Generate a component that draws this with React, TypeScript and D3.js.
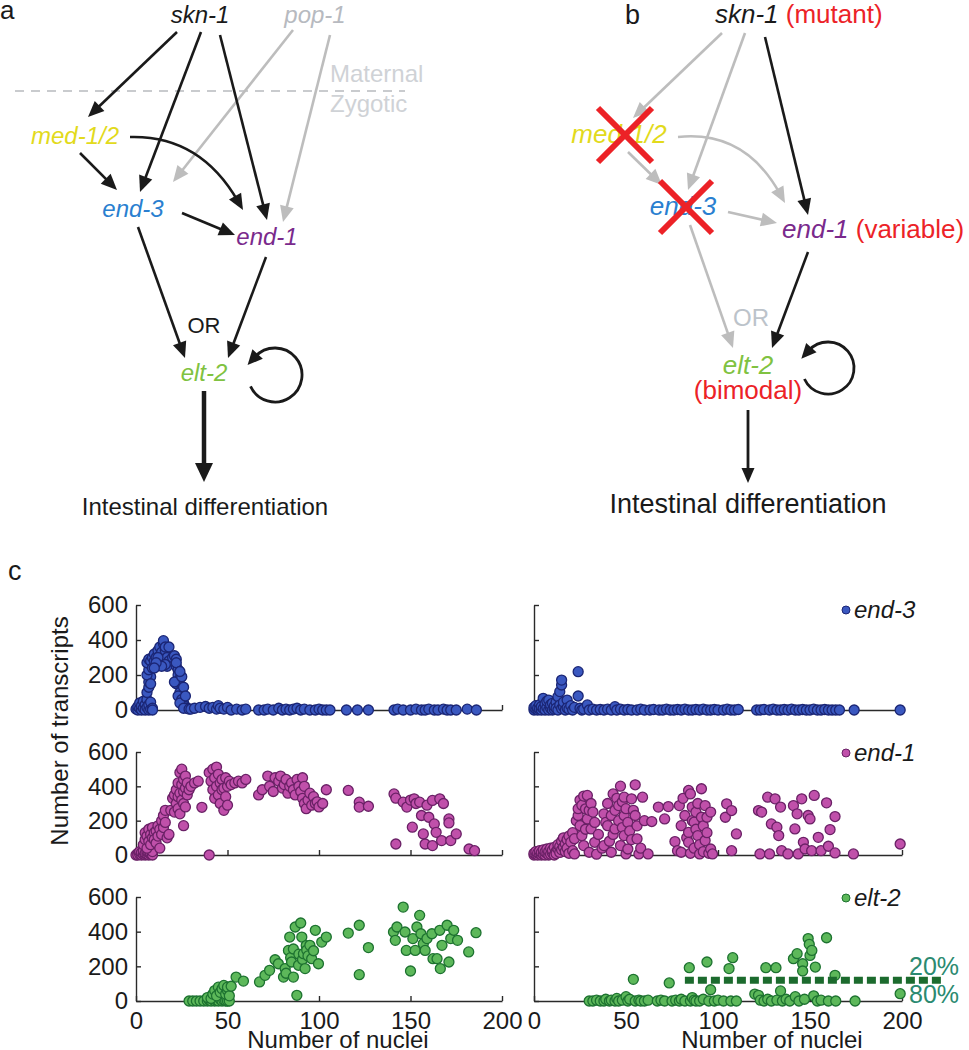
import React, { useEffect, useRef } from 'react';
import * as d3 from 'd3';

type Pt = [number, number];

// [number of nuclei, number of transcripts]
const end3Wt: Pt[] = [
  [0, 5], [1, 0], [1, 20], [2, 10], [2, 40], [3, 0], [3, 25], [4, 50], [4, 10], [5, 30], [5, 0], [6, 60], [6, 15], [7, 0], [7, 30], [8, 5], [8, 45], [9, 10], [9, 0],
  [6, 100], [7, 130], [7, 160], [8, 190], [6, 200], [7, 230], [8, 260], [6, 270], [7, 290], [8, 280], [9, 240], [8, 150],
  [9, 300], [10, 280], [10, 320], [11, 250], [11, 300], [12, 340], [12, 270], [13, 310], [13, 360], [14, 290], [14, 330], [15, 380], [15, 396], [16, 340], [16, 360],
  [17, 300], [17, 250], [18, 360], [18, 280], [16, 260], [12, 300], [14, 250], [11, 270], [10, 240],
  [20, 300], [21, 310], [22, 290], [22, 250], [23, 230], [23, 200], [24, 180], [22, 150], [21, 160], [25, 120], [24, 100], [23, 80], [25, 60], [26, 40], [27, 20],
  [24, 40], [25, 190], [26, 130], [27, 80], [28, 10], [26, 10], [29, 5], [22, 270], [24, 220],
  [30, 5], [32, 10], [35, 15], [38, 20], [40, 10], [42, 15], [44, 5], [45, 25], [46, 10], [48, 5], [50, 15], [52, 0], [55, 5], [58, 0], [60, 5],
  [67, 0], [70, 0], [72, 5], [75, 0], [78, 10], [80, 0], [82, 5], [84, 0], [86, 5], [88, 10], [90, 0], [92, 5], [95, 0], [98, 0], [100, 5], [102, 0], [104, 0], [106, 0],
  [115, 0], [121, 0], [127, 0],
  [141, 0], [143, 5], [146, 0], [150, 0], [153, 5], [156, 0], [158, 0], [160, 5], [163, 0], [165, 0], [168, 5], [170, 0], [172, 0], [175, 0], [181, 5], [186, 0],
];

const end1Wt: Pt[] = [
  [0, 0], [1, 10], [1, 0], [2, 5], [2, 20], [3, 0], [3, 15], [4, 5], [4, 25], [5, 0], [5, 10], [6, 5], [6, 20], [7, 0], [7, 15], [8, 5], [8, 10], [9, 0], [9, 20],
  [4, 60], [5, 90], [5, 130], [6, 110], [6, 40], [7, 80], [7, 150], [8, 120], [8, 60], [9, 100], [9, 160], [10, 130], [10, 90], [11, 140], [11, 70], [12, 110],
  [12, 170], [13, 150], [13, 40], [14, 200], [14, 120], [15, 230], [15, 160], [16, 260], [16, 190], [17, 100], [18, 120], [19, 260],
  [20, 330], [21, 350], [21, 250], [22, 380], [22, 300], [23, 420], [23, 340], [23, 270], [24, 480], [24, 360], [24, 240], [25, 500], [25, 410], [25, 320],
  [26, 440], [26, 370], [26, 300], [26, 171], [27, 460], [27, 390], [27, 280], [28, 350], [28, 420], [29, 380], [30, 400], [32, 420], [34, 430], [36, 278], [40, 0],
  [40, 480], [41, 430], [42, 500], [42, 380], [43, 450], [43, 330], [44, 512], [44, 400], [45, 470], [45, 350], [46, 420], [46, 300], [47, 440], [47, 380],
  [48, 390], [48, 260], [49, 450], [49, 340], [50, 400], [50, 290], [51, 430], [52, 410], [54, 420], [56, 430], [58, 420], [60, 440],
  [67, 350], [69, 380], [72, 460], [73, 400], [75, 370], [76, 450], [78, 430], [79, 460], [80, 390], [81, 410], [82, 440], [83, 360], [84, 400], [85, 420],
  [86, 380], [87, 350], [88, 440], [89, 400], [90, 370], [91, 330], [91, 450], [92, 300], [92, 400], [93, 270], [94, 320], [95, 360], [96, 290], [97, 340],
  [98, 300], [99, 310], [100, 280], [102, 300], [104, 380],
  [116, 376], [122, 308], [122, 279], [127, 284],
  [141, 356], [142, 331], [142, 64], [146, 308], [148, 279], [150, 320], [151, 162], [152, 327], [153, 300], [155, 308], [156, 230], [157, 123], [158, 64],
  [159, 290], [160, 220], [162, 318], [162, 55], [163, 181], [164, 132], [166, 327], [167, 84], [168, 300], [171, 210], [171, 187], [172, 84], [175, 123],
  [182, 35], [185, 25],
];

const elt2Wt: Pt[] = [
  [29, 0], [31, 0], [33, 0], [35, 0], [37, 0], [39, 0], [40, 5], [41, 0], [42, 10], [43, 0], [44, 5], [45, 0], [46, 10], [47, 0], [48, 5], [49, 0], [50, 0], [51, 0],
  [39, 20], [41, 15], [42, 40], [43, 60], [44, 30], [45, 80], [46, 50], [47, 70], [48, 90], [49, 40], [50, 60], [50, 80], [51, 30], [52, 85], [54.7, 138], [58.7, 115],
  [67.5, 110], [70.5, 148], [73, 177], [76, 238], [77.8, 215], [80.6, 138], [81.5, 187], [82, 160], [83.3, 292], [84, 369], [84.5, 250], [85, 225], [86, 138],
  [86, 300], [87, 427], [87.9, 33], [88.8, 206], [89, 270], [90, 450], [90.6, 369], [91, 240], [91.5, 273], [92.4, 187], [93, 320], [93.3, 294], [94, 260],
  [95, 321], [96, 244], [97, 290], [98, 408], [99.7, 215], [101.5, 340], [104, 369],
  [116, 392], [122, 437], [122, 152], [127, 308],
  [140.7, 398], [141.7, 350], [142.6, 427], [146, 542], [147, 398], [147.7, 292], [150, 173], [151.3, 360], [152.6, 292], [153.5, 427], [155, 494], [155.7, 388],
  [157, 331], [158, 292], [159, 360], [161.7, 388], [162.3, 244], [164.5, 244], [166, 408], [166.3, 187], [167.2, 321], [170, 437], [171, 225], [172, 360],
  [173.6, 408], [175.7, 350], [181.8, 283], [185.8, 394],
];

const end3Mut: Pt[] = [
  [0, 0], [0, 15], [1, 5], [1, 25], [2, 0], [2, 12], [3, 30], [3, 5], [4, 0], [4, 20], [5, 67], [5, 8], [6, 0], [6, 35], [7, 15], [7, 50], [8, 57], [8, 0],
  [9, 10], [9, 30], [10, 38], [10, 0], [11, 5], [11, 22], [12, 45], [12, 10], [13, 76], [13, 0], [14, 105], [14, 28], [15, 143], [15, 171], [15, 8], [16, 19],
  [16, 45], [17, 0], [18, 57], [18, 12], [19, 5], [20, 25], [21, 0], [22, 15], [24, 219], [24, 80], [25, 10], [26, 0], [27, 5], [29, 29], [30, 0], [32, 5],
  [34, 0], [36, 3], [38, 0], [40, 5], [42, 0], [44, 19], [45, 0], [47, 5], [49, 0], [51, 3], [53, 0], [56, 0], [58, 5], [60, 0], [63, 0], [65, 3], [68, 0],
  [70, 0], [72, 5], [74, 0], [76, 0], [78, 3], [80, 0], [82, 5], [84, 0], [86, 0], [88, 3], [90, 0], [92, 5], [94, 0], [96, 0], [98, 3], [100, 0], [103, 0],
  [105, 5], [107, 0], [109, 0], [111, 3], [121, 0], [123, 0], [125, 3], [128, 0], [130, 5], [132, 0], [134, 0], [136, 3], [138, 0], [140, 5], [142, 0],
  [144, 0], [146, 3], [148, 0], [150, 0], [152, 5], [154, 0], [156, 0], [158, 3], [160, 0], [162, 0], [164, 0], [166, 0], [174, 0], [199, 0],
];

const end1Mut: Pt[] = [
  [0, 0], [0, 10], [1, 5], [1, 20], [2, 0], [2, 12], [3, 8], [3, 25], [4, 0], [4, 15], [5, 5], [5, 30], [6, 0], [6, 18], [7, 10], [7, 35], [8, 0], [8, 22],
  [9, 5], [9, 40], [10, 12], [10, 28], [11, 0], [11, 45], [12, 20], [12, 8], [13, 35], [13, 60], [14, 15], [14, 50], [15, 80], [15, 30], [16, 45], [16, 100],
  [17, 20], [17, 65], [18, 90], [18, 40], [19, 110], [19, 10], [20, 75], [21, 130], [21, 25], [22, 95], [22, 6],
  [23, 200], [24, 230], [24, 270], [25, 171], [25, 320], [26, 113], [26, 290], [27, 55], [27, 343], [28, 269], [28, 150], [29, 347], [29, 210], [30, 16],
  [30, 260], [31, 152], [31, 300], [32, 250], [33, 74], [33, 190], [34, 5], [35, 120],
  [37, 40], [38, 240], [38, 55], [39, 190], [40, 171], [40, 300], [41, 80], [42, 230], [42, 16], [43, 356], [43, 120], [44, 152], [44, 260], [45, 330],
  [46, 288], [46, 200], [47, 55], [47, 401], [48, 160], [48, 310], [49, 337], [49, 230], [49, 113], [50, 6], [50, 270], [51, 35], [51, 190], [52, 140],
  [53, 327], [53, 90], [54, 260], [55, 409], [55, 230], [56, 94], [56, 170], [57, 6], [58, 40], [59, 337], [60, 200], [62, 6],
  [64, 195], [67.6, 279], [71, 210], [73, 282], [76.6, 78],
  [78, 25], [79, 288], [80, 16], [80, 171], [81, 330], [82, 230], [83, 100], [84, 376], [84, 132], [84, 74], [85, 356], [85, 10], [86, 279], [86, 200],
  [87, 191], [87, 40], [88, 250], [88, 150], [89, 113], [89, 300], [90, 6], [90, 60], [91, 386], [91, 220], [92, 170], [92, 20], [93, 288], [93, 84],
  [94, 220], [94, 130], [95, 10], [96, 35], [96, 250], [97, 6],
  [104, 220], [104.7, 298], [107.4, 259], [107.4, 25], [110, 123],
  [122, 259], [122.8, 6], [123.7, 250], [127, 337], [128, 6], [129, 181], [131, 327], [132, 162], [133, 113], [134, 279], [134.6, 25], [138, 6],
  [141, 288], [141.8, 152], [143, 240], [143.6, 6], [145.5, 327], [146.4, 74], [147.3, 35], [149, 230], [150, 210], [150.9, 25], [152.3, 347], [154.5, 103],
  [156, 25], [159, 304], [160, 51], [160.9, 148], [163.6, 224], [163.6, 12], [173.6, 6], [199, 64],
];

const elt2Mut: Pt[] = [
  [30, 0], [32, 0], [34, 5], [36, 0], [38, 0], [39, 10], [41, 0], [42, 5], [44, 0], [45, 15], [46, 0], [48, 5], [50, 25], [51, 0], [52, 10], [54, 125],
  [55, 0], [57, 5], [58, 0], [60, 0], [62, 5], [67, 0], [69, 5], [71, 0], [73.5, 104], [75, 0], [77, 5], [79, 0], [80, 10], [82, 0], [84.4, 192], [85, 0],
  [86, 20], [87, 5], [88, 0], [90, 0], [92, 10], [94, 225], [95, 0], [96, 65], [98, 0], [100, 5], [103, 0], [106, 187], [107, 0], [108, 250], [110, 0],
  [120, 40], [122, 33], [123, 5], [125, 0], [126, 192], [127, 10], [129, 0], [131.5, 192], [132, 5], [134, 58], [135, 0], [137, 10], [139, 0], [141, 244],
  [142, 25], [143, 273], [144, 0], [146, 215], [146, 173], [147, 10], [149, 360], [149.6, 327], [150, 263], [151, 292], [152, 30], [152.9, 196], [154, 0],
  [156, 5], [159, 365], [160, 0], [163.6, 148], [164, 0], [174.5, 0], [199, 42],
];

const genes = ['end-3', 'end-1', 'elt-2'];
const geneFill = ['#3a58c0', '#c050aa', '#5db85a'];
const geneStroke = ['#1b2675', '#6a2166', '#1d7230'];
const yTicks = [0, 200, 400, 600];
const xTicks = [0, 50, 100, 150, 200];
const bimodalCut = 120;
const bimodalShares = ['20%', '80%'];

const FONT = '"Liberation Sans", Arial, Helvetica, sans-serif';

const App: React.FC = () => {
  const ref = useRef<SVGSVGElement>(null);

  useEffect(() => {
    if (!ref.current) return;
    const svg = d3.select(ref.current);
    svg.selectAll('*').remove();

    const black = '#1a1a1a';
    const gray = '#bdbdbd';
    const red = '#ec2227';

    // arrow helper: shaft + filled head
    const head = (tipX: number, tipY: number, dx: number, dy: number, color: string, len: number, w: number) => {
      const l = Math.hypot(dx, dy);
      const ux = dx / l, uy = dy / l;
      const bx = tipX - ux * len, by = tipY - uy * len;
      svg.append('path')
        .attr('d', `M${tipX},${tipY}L${bx - uy * w / 2},${by + ux * w / 2}L${bx + uy * w / 2},${by - ux * w / 2}Z`)
        .attr('fill', color);
      return [tipX - ux * len * 0.7, tipY - uy * len * 0.7];
    };
    const arrow = (x1: number, y1: number, x2: number, y2: number, color: string, sw = 2.6, len = 16, w = 14) => {
      const [ex, ey] = head(x2, y2, x2 - x1, y2 - y1, color, len, w);
      svg.append('line').attr('x1', x1).attr('y1', y1).attr('x2', ex).attr('y2', ey)
        .attr('stroke', color).attr('stroke-width', sw);
    };
    const curve = (x1: number, y1: number, cx: number, cy: number, x2: number, y2: number, color: string) => {
      const l = Math.hypot(x2 - cx, y2 - cy);
      const ex = x2 - (x2 - cx) / l * 10, ey = y2 - (y2 - cy) / l * 10;
      svg.append('path').attr('d', `M${x1},${y1}Q${cx},${cy} ${ex},${ey}`)
        .attr('fill', 'none').attr('stroke', color).attr('stroke-width', 2.6);
      head(x2, y2, x2 - cx, y2 - cy, color, 16, 14);
    };
    const loop = (cx: number, cy: number, r: number) => {
      const a0 = (155 * Math.PI) / 180, a1 = (222 * Math.PI) / 180;
      const sx = cx + r * Math.cos(a0), sy = cy + r * Math.sin(a0);
      const ex = cx + r * Math.cos(a1), ey = cy + r * Math.sin(a1);
      svg.append('path').attr('d', `M${sx},${sy}A${r},${r} 0 1 0 ${ex},${ey}`)
        .attr('fill', 'none').attr('stroke', black).attr('stroke-width', 2.8);
      const tx = Math.sin(a1), ty = -Math.cos(a1);
      head(ex + tx * 11, ey + ty * 11, tx, ty, black, 15, 14);
    };
    const label = (x: number, y: number, t: string, fill: string, size: number, italic = true, anchor = 'middle') => {
      return svg.append('text').attr('x', x).attr('y', y).attr('text-anchor', anchor)
        .attr('font-family', FONT).attr('font-size', size)
        .attr('font-style', italic ? 'italic' : 'normal').attr('fill', fill).text(t);
    };

    // ---------- panel a ----------
    label(0, 19, 'a', black, 26, false, 'start');
    svg.append('line').attr('x1', 15).attr('x2', 405).attr('y1', 91).attr('y2', 91)
      .attr('stroke', '#c9cbce').attr('stroke-width', 2).attr('stroke-dasharray', '9,7');
    arrow(293, 30, 173, 182, gray);
    arrow(330, 35, 283, 222, gray);
    arrow(177, 32, 88, 117, black);
    arrow(201, 32, 140, 192, black);
    arrow(220, 35, 267, 220, black);
    arrow(80, 153, 117, 190, black);
    curve(130, 137, 200, 135, 243, 210, black);
    arrow(182, 213, 235, 235, black);
    arrow(138, 227, 185, 358, black);
    arrow(266, 257, 228, 358, black);
    arrow(204, 391, 204, 482, black, 4.5, 19, 18);
    loop(275, 375, 27);
    label(200, 23, 'skn-1', black, 24);
    label(315, 23, 'pop-1', '#b7bac0', 24);
    label(330, 82, 'Maternal', '#cfd2d6', 24, false, 'start');
    label(330, 112, 'Zygotic', '#cfd2d6', 24, false, 'start');
    label(75, 144, 'med-1/2', '#e2da1c', 24);
    label(133, 217, 'end-3', '#2a7fd0', 24);
    label(267, 245, 'end-1', '#7a2a8c', 24);
    label(204, 333, 'OR', black, 22, false);
    label(204, 381, 'elt-2', '#80c241', 24);
    label(205, 515, 'Intestinal differentiation', black, 24, false);

    // ---------- panel b ----------
    label(625, 24, 'b', black, 27, false, 'start');
    arrow(722, 33, 633, 118, gray);
    arrow(745, 33, 688, 190, gray);
    arrow(628, 152, 662, 185, gray);
    curve(678, 137, 745, 130, 785, 203, gray);
    arrow(728, 212, 777, 223, gray);
    arrow(690, 225, 733, 348, gray);
    arrow(765, 37, 808, 215, black);
    arrow(808, 252, 772, 348, black);
    arrow(748, 410, 748, 483, black, 2.8, 15, 13);
    loop(828, 368, 26);
    const s = label(715, 23, 'skn-1', black, 26, true, 'start');
    s.append('tspan').attr('font-style', 'normal').attr('fill', red).text(' (mutant)');
    label(619, 143, 'med-1/2', '#e2da1c', 26);
    label(683, 215, 'end-3', '#2a7fd0', 26);
    const e1 = label(782, 238, 'end-1', '#7a2a8c', 26, true, 'start');
    e1.append('tspan').attr('font-style', 'normal').attr('fill', red).text(' (variable)');
    label(751, 326, 'OR', '#bcc3ca', 24, false);
    label(748, 374, 'elt-2', '#80c241', 26);
    label(748, 399, '(bimodal)', red, 26, false);
    label(748, 513, 'Intestinal differentiation', black, 27, false);
    [[625, 135, 27], [686, 207, 26]].forEach(([cx, cy, h]) => {
      svg.append('path')
        .attr('d', `M${cx - h},${cy - h}L${cx + h},${cy + h}M${cx + h},${cy - h}L${cx - h},${cy + h}`)
        .attr('stroke', red).attr('stroke-width', 6);
    });

    // ---------- panel c ----------
    label(8, 580, 'c', black, 27, false, 'start');
    const panels = [[end3Wt, end3Mut], [end1Wt, end1Mut], [elt2Wt, elt2Mut]];
    const rowRange: [number, number][] = [[710, 605], [855, 752], [1001, 897]];
    const colRange: [number, number][] = [[136, 502], [534, 902]];
    const legendY = [610, 753, 898];

    panels.forEach((row, r) => {
      const y = d3.scaleLinear().domain([0, 600]).range(rowRange[r]);
      row.forEach((data, c) => {
        const x = d3.scaleLinear().domain([0, 200]).range(colRange[c]);
        const g = svg.append('g');
        const yAx = g.append('g').attr('transform', `translate(${colRange[c][0]},0)`)
          .call(d3.axisLeft(y).tickValues(yTicks).tickSizeInner(-5).tickSizeOuter(0).tickPadding(8)
            .tickFormat(c === 0 ? (d => String(d)) : () => ''));
        const xAx = g.append('g').attr('transform', `translate(0,${rowRange[r][0]})`)
          .call(d3.axisBottom(x).tickValues(xTicks).tickSizeInner(-5).tickSizeOuter(0).tickPadding(11)
            .tickFormat(r === 2 ? (d => String(d)) : () => ''));
        [yAx, xAx].forEach(ax => {
          ax.select('.domain').attr('stroke', '#2a2a2a').attr('stroke-width', 1.4);
          ax.selectAll('.tick line').attr('stroke', '#2a2a2a').attr('stroke-width', 1.4);
          ax.selectAll('text').attr('font-family', FONT).attr('font-size', 24).attr('fill', black);
        });
        g.append('g').selectAll('circle').data(data).enter().append('circle')
          .attr('cx', d => x(d[0])).attr('cy', d => y(d[1])).attr('r', 5)
          .attr('fill', geneFill[r]).attr('stroke', geneStroke[r]).attr('stroke-width', 1.3);
        if (c === 1) {
          svg.append('circle').attr('cx', 846).attr('cy', legendY[r]).attr('r', 4)
            .attr('fill', geneFill[r]).attr('stroke', geneStroke[r]).attr('stroke-width', 1);
          label(854, legendY[r] + 8, genes[r], black, 24, true, 'start');
        }
        if (r === 2 && c === 1) {
          svg.append('line').attr('x1', x(82)).attr('x2', x(222)).attr('y1', y(bimodalCut)).attr('y2', y(bimodalCut))
            .attr('stroke', '#1c6b2e').attr('stroke-width', 7).attr('stroke-dasharray', '9,4');
          label(909, 975, bimodalShares[0], '#2b8a70', 25, false, 'start');
          label(909, 1003, bimodalShares[1], '#2b8a70', 25, false, 'start');
        }
        if (r === 2) {
          label(c === 0 ? 338 : 772, 1048, 'Number of nuclei', black, 24, false);
        }
      });
    });

    svg.append('text').attr('transform', 'translate(68,731) rotate(-90)').attr('text-anchor', 'middle')
      .attr('font-family', FONT).attr('font-size', 24).attr('fill', black).text('Number of transcripts');
  }, []);

  return (
    <svg ref={ref} width={969} height={1050}
      style={{ position: 'absolute', left: 0, top: 0, background: '#fff' }} />
  );
};

export default App;
